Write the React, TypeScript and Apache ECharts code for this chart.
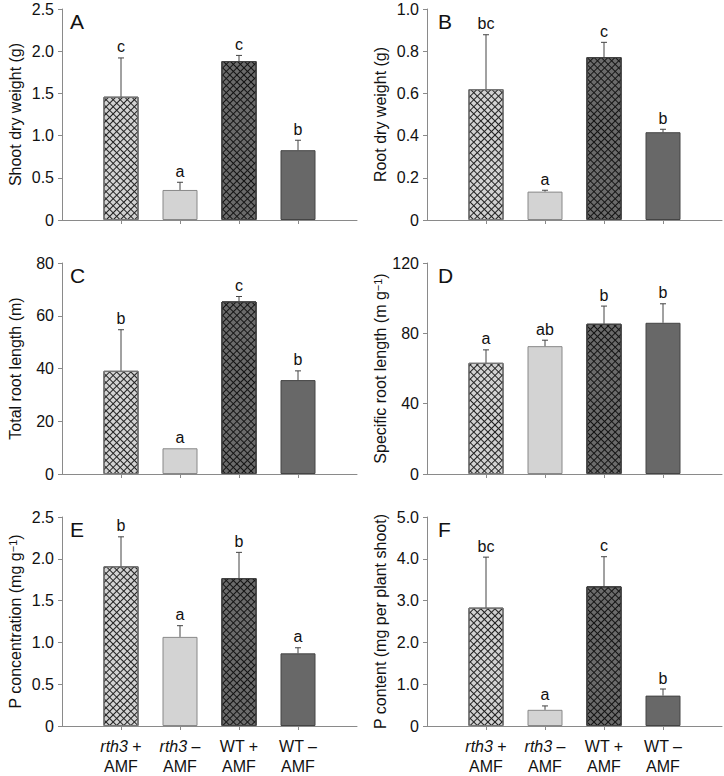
import React, { useEffect, useRef } from 'react';
import * as echarts from 'echarts';

// ---------- data ----------
const positions = [1, 2, 3, 4];
const xLabelsTop = ['rth3 +', 'rth3 –', 'WT +', 'WT –'];
const xLabelsBottom = ['AMF', 'AMF', 'AMF', 'AMF'];

const shootDry = [1.46, 0.356, 1.883, 0.827];
const shootDryErr = [0.46, 0.091, 0.067, 0.118];
const shootDryLetters = ['c', 'a', 'c', 'b'];

const rootDry = [0.62, 0.1345, 0.772, 0.416];
const rootDryErr = [0.258, 0.0065, 0.07, 0.014];
const rootDryLetters = ['bc', 'a', 'c', 'b'];

const rootLen = [39.1, 9.75, 65.4, 35.6];
const rootLenErr = [15.6, 0, 1.9, 3.5];
const rootLenLetters = ['b', 'a', 'c', 'b'];

const specLen = [63.2, 72.7, 85.4, 86.0];
const specLenErr = [7.4, 3.4, 10.1, 10.8];
const specLenLetters = ['a', 'ab', 'b', 'b'];

const pConc = [1.91, 1.066, 1.769, 0.869];
const pConcErr = [0.353, 0.134, 0.308, 0.067];
const pConcLetters = ['b', 'a', 'b', 'a'];

const pCont = [2.83, 0.387, 3.34, 0.727];
const pContErr = [1.21, 0.093, 0.71, 0.158];
const pContLetters = ['bc', 'a', 'c', 'b'];

const panelLetters = ['A', 'B', 'C', 'D', 'E', 'F'];
const axisNames = [
  'Shoot dry weight (g)',
  'Root dry weight (g)',
  'Total root length (m)',
  'Specific root length (m g{sup|−1})',
  'P concentration (mg g{sup|−1})',
  'P content (mg per plant shoot)',
];
const yMax = [2.5, 1.0, 80, 120, 2.5, 5.0];
const yInterval = [0.5, 0.2, 20, 40, 0.5, 1.0];
const yDecimals = [1, 1, 0, 0, 1, 1];

const values = [shootDry, rootDry, rootLen, specLen, pConc, pCont];
const errors = [shootDryErr, rootDryErr, rootLenErr, specLenErr, pConcErr, pContErr];
const letters = [shootDryLetters, rootDryLetters, rootLenLetters, specLenLetters, pConcLetters, pContLetters];

// ---------- style ----------
const FONT = '"Liberation Sans", Arial, Helvetica, sans-serif';
const fills = ['#d2d2d2', '#d3d3d3', '#6b6b6b', '#686868'];
const borders = ['#777777', '#888888', '#444444', '#444444'];
const hatched = [true, false, true, false];
const hatchColors = ['#222222', '', '#141414', ''];
const gridLefts = [62, 427];
const gridTops = [9, 263, 517];
const GRID_W = 295;
const GRID_H = 211;

function makeDecal(color: string, rot: number) {
  return {
    symbol: 'rect',
    symbolSize: 1,
    dashArrayX: [1, 0],
    dashArrayY: [1, 4],
    rotation: rot,
    color,
  };
}

export default function App() {
  const ref = useRef<HTMLDivElement>(null);
  useEffect(() => {
    if (!ref.current) return;
    const chart = echarts.init(ref.current, undefined, { renderer: 'svg' });

    const grid: any[] = [];
    const xAxis: any[] = [];
    const yAxis: any[] = [];
    const series: any[] = [];
    const graphic: any[] = [];

    for (let i = 0; i < 6; i++) {
      const col = i % 2;
      const row = Math.floor(i / 2);
      const left = gridLefts[col];
      const top = gridTops[row];
      grid.push({ left, top, width: GRID_W, height: GRID_H });
      const showX = row === 2;
      xAxis.push({
        type: 'value',
        gridIndex: i,
        min: 0,
        max: 5,
        interval: 1,
        splitLine: { show: false },
        axisLine: { show: true, lineStyle: { color: '#8a8a8a', width: 1 } },
        axisTick: { show: true, length: 4, customValues: positions, lineStyle: { color: '#8a8a8a' } },
        axisLabel: {
          show: showX,
          customValues: positions,
          margin: 10,
          color: '#111',
          fontSize: 16,
          fontFamily: FONT,
          lineHeight: 20,
          align: 'center',
          formatter: (v: number) => {
            const k = Math.round(v) - 1;
            const t = xLabelsTop[k];
            if (t.startsWith('rth3')) {
              return '{i|rth3}' + t.slice(4) + '\n' + xLabelsBottom[k];
            }
            return t + '\n' + xLabelsBottom[k];
          },
          rich: {
            i: { fontStyle: 'italic', fontSize: 16, fontFamily: FONT, color: '#111', lineHeight: 20 },
          },
        },
      });
      const dec = yDecimals[i];
      yAxis.push({
        type: 'value',
        gridIndex: i,
        min: 0,
        max: yMax[i],
        interval: yInterval[i],
        name: axisNames[i],
        nameLocation: 'middle',
        nameRotate: 90,
        nameGap: 39,
        nameTextStyle: {
          fontSize: 16,
          fontFamily: FONT,
          color: '#111',
          rich: {
            sup: { fontSize: 11, fontFamily: FONT, color: '#111', verticalAlign: 'top', lineHeight: 16 },
          },
        },
        splitLine: { show: false },
        axisLine: { show: true, lineStyle: { color: '#8a8a8a', width: 1 } },
        axisTick: { show: true, length: 4, lineStyle: { color: '#8a8a8a' } },
        axisLabel: {
          color: '#111',
          fontSize: 16,
          fontFamily: FONT,
          margin: 8,
          formatter: (v: number) => (v === 0 ? '0' : v.toFixed(dec)),
        },
      });

      const vals = values[i];
      const errs = errors[i];
      const lets = letters[i];

      series.push({
        type: 'bar',
        xAxisIndex: i,
        yAxisIndex: i,
        barWidth: 35,
        barGap: '-100%',
        z: 2,
        data: positions.map((p, j) => ({
          value: [p, vals[j]],
          itemStyle: {
            color: fills[j],
            borderColor: borders[j],
            borderWidth: 1,
            decal: hatched[j] ? makeDecal(hatchColors[j], Math.PI / 4) : undefined,
          },
        })),
      });
      series.push({
        type: 'bar',
        xAxisIndex: i,
        yAxisIndex: i,
        barWidth: 35,
        barGap: '-100%',
        z: 3,
        data: positions.map((p, j) =>
          hatched[j]
            ? {
                value: [p, vals[j]],
                itemStyle: {
                  color: 'rgba(0,0,0,0)',
                  borderColor: borders[j],
                  borderWidth: 1,
                  decal: makeDecal(hatchColors[j], -Math.PI / 4),
                },
              }
            : { value: [p, 0], itemStyle: { color: 'rgba(0,0,0,0)', borderWidth: 0 } }
        ),
      });
      series.push({
        type: 'custom',
        xAxisIndex: i,
        yAxisIndex: i,
        z: 5,
        data: positions.map((p, j) => [p, vals[j], errs[j]]),
        encode: { x: 0, y: 1 },
        renderItem: (params: any, api: any) => {
          const idx = params.dataIndex;
          const x = api.value(0);
          const v = api.value(1);
          const e = api.value(2);
          const base = api.coord([x, v]);
          const tp = api.coord([x, v + e]);
          const children: any[] = [];
          if (e > 0) {
            children.push({
              type: 'line',
              shape: { x1: base[0], y1: base[1], x2: tp[0], y2: tp[1] },
              style: { stroke: '#444', lineWidth: 1 },
            });
            children.push({
              type: 'line',
              shape: { x1: tp[0] - 3, y1: tp[1], x2: tp[0] + 3, y2: tp[1] },
              style: { stroke: '#444', lineWidth: 1 },
            });
          }
          children.push({
            type: 'text',
            x: tp[0],
            y: tp[1] - 3,
            style: {
              text: lets[idx],
              align: 'center',
              verticalAlign: 'bottom',
              fontSize: 16,
              fontFamily: FONT,
              fill: '#111',
            },
          });
          return { type: 'group', children };
        },
      });

      graphic.push({
        type: 'text',
        left: left + (col === 0 ? 8 : 11),
        top: top + 2,
        style: { text: panelLetters[i], fontSize: 21, fontFamily: FONT, fill: '#111' },
      });
    }

    chart.setOption({
      animation: false,
      backgroundColor: '#ffffff',
      grid,
      xAxis,
      yAxis,
      series,
      graphic,
    });
    return () => chart.dispose();
  }, []);

  return (
    <div
      ref={ref}
      style={{ position: 'absolute', left: 0, top: 0, width: 724, height: 776 }}
    />
  );
}
